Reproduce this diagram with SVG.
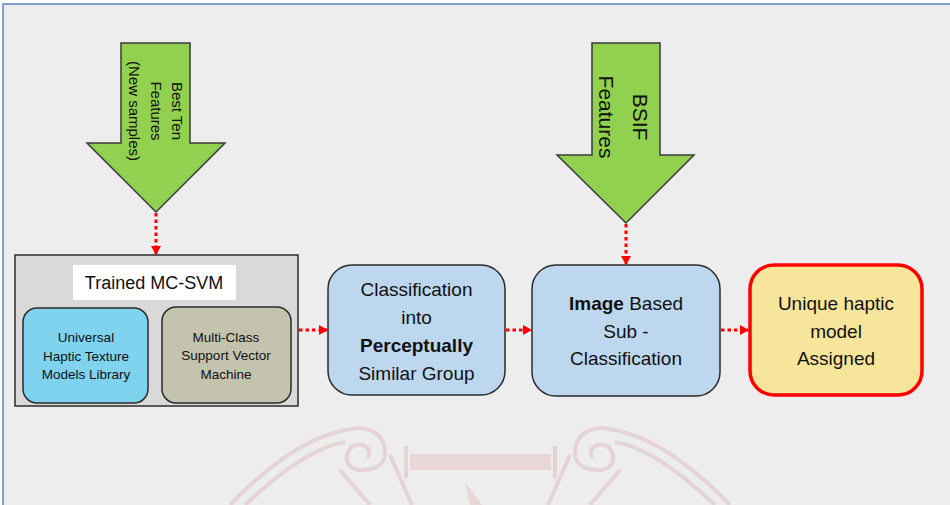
<svg xmlns="http://www.w3.org/2000/svg" width="950" height="505" viewBox="0 0 950 505">
<defs>
<marker id="ah" markerWidth="10" markerHeight="10" refX="8" refY="5" orient="auto" markerUnits="userSpaceOnUse">
<path d="M0,0 L9,5 L0,10 Z" fill="#ff0000"/>
</marker>
<style>
.t{font-family:"Liberation Sans",Arial,sans-serif;fill:#111;text-anchor:middle}
.conn{stroke:#ff0000;stroke-width:3;stroke-dasharray:3.5,3;fill:none}
.big{stroke:#3a3a3a;stroke-width:1.5;fill:#92d050}
.blue{fill:#bdd7ee;stroke:#2b2b2b;stroke-width:1.5}
.wm{fill:none;stroke:#e6d3d3;stroke-width:4}
</style>
</defs>
<rect x="0" y="0" width="950" height="505" fill="#ffffff"/>
<rect x="3" y="4" width="950" height="505" fill="#ededed" stroke="#5a86c0" stroke-width="1.5"/>
<g id="watermark">
<path class="wm" d="M230,505 Q300,432 360,428 Q385,430 385,455 Q383,470 360,470 Q345,468 347,455 Q350,443 362,445 Q372,448 368,458"/>
<path class="wm" d="M245,505 Q305,448 345,442"/>
<path class="wm" d="M730,505 Q660,432 600,428 Q575,430 575,455 Q577,470 600,470 Q615,468 613,455 Q610,443 598,445 Q588,448 592,458"/>
<path class="wm" d="M715,505 Q655,448 615,442"/>
<rect x="410" y="454" width="141" height="16" fill="#e9d7d7"/>
<path class="wm" d="M406,446 L406,478 M555,446 L555,478" stroke-width="3"/>
<path class="wm" d="M340,470 L370,505 M390,455 L412,505 M620,470 L590,505 M570,455 L548,505" stroke-width="3.5"/>
<path d="M465,482 L482,505 L470,505 Z" fill="#e9d7d7"/>
</g>
<g id="arrow-best-ten">
<path class="big" d="M121,43 L190,43 L190,143 L225,143 L156,212 L87,143 L121,143 Z"/>
<g transform="translate(156,111) rotate(90)" class="t" font-size="15">
<text x="0" y="-16">Best Ten</text>
<text x="0" y="5">Features</text>
<text x="0" y="27">(New samples)</text>
</g>
</g>
<g id="arrow-bsif">
<path class="big" d="M592,43 L660,43 L660,155 L694,155 L626,223 L557,155 L592,155 Z"/>
<g transform="translate(626,117) rotate(90)" class="t" font-size="21">
<text x="0" y="-7">BSIF</text>
<text x="0" y="27">Features</text>
</g>
</g>
<g id="trained-mc-svm">
<rect x="15" y="255" width="283" height="151" fill="#d9d9d9" stroke="#2b2b2b" stroke-width="1.5"/>
<rect x="73" y="265" width="163" height="35" fill="#ffffff"/>
<text class="t" x="154" y="289" font-size="18">Trained MC-SVM</text>
</g>
<g id="haptic-library">
<rect x="23" y="308" width="125" height="95" rx="14" fill="#7fd3ef" stroke="#2b2b2b" stroke-width="1.5"/>
<text class="t" x="86" y="342" font-size="13.5">Universal</text>
<text class="t" x="86" y="361" font-size="13.5">Haptic Texture</text>
<text class="t" x="86" y="379" font-size="13.5">Models Library</text>
</g>
<g id="mc-svm">
<rect x="162" y="307" width="129" height="96" rx="14" fill="#c4c3ad" stroke="#2b2b2b" stroke-width="1.5"/>
<text class="t" x="226" y="342" font-size="13.5">Multi-Class</text>
<text class="t" x="226" y="360" font-size="13.5">Support Vector</text>
<text class="t" x="226" y="379" font-size="13.5">Machine</text>
</g>
<g id="classification">
<rect class="blue" x="328" y="265" width="177" height="130" rx="24"/>
<text class="t" x="416.5" y="296" font-size="19">Classification</text>
<text class="t" x="416.5" y="324" font-size="19">into</text>
<text class="t" x="416.5" y="352" font-size="19" font-weight="bold">Perceptually</text>
<text class="t" x="416.5" y="380" font-size="19">Similar Group</text>
</g>
<g id="sub-classification">
<rect class="blue" x="532" y="265" width="188" height="131" rx="24"/>
<text class="t" x="626" y="310" font-size="19"><tspan font-weight="bold">Image</tspan> Based</text>
<text class="t" x="626" y="338" font-size="19">Sub -</text>
<text class="t" x="626" y="365" font-size="19">Classification</text>
</g>
<g id="unique-model">
<rect x="750" y="265" width="172" height="130" rx="24" fill="#f7e59b" stroke="#ff0000" stroke-width="3.5"/>
<text class="t" x="836" y="310" font-size="19">Unique haptic</text>
<text class="t" x="836" y="338" font-size="19">model</text>
<text class="t" x="836" y="365" font-size="19">Assigned</text>
</g>
<g id="connectors">
<path class="conn" d="M156,213 L156,254" marker-end="url(#ah)"/>
<path class="conn" d="M626,224 L626,264" marker-end="url(#ah)"/>
<path class="conn" d="M299,330 L327,330" marker-end="url(#ah)"/>
<path class="conn" d="M506,330 L531,330" marker-end="url(#ah)"/>
<path class="conn" d="M721,330 L748,330" marker-end="url(#ah)"/>
</g>
</svg>
